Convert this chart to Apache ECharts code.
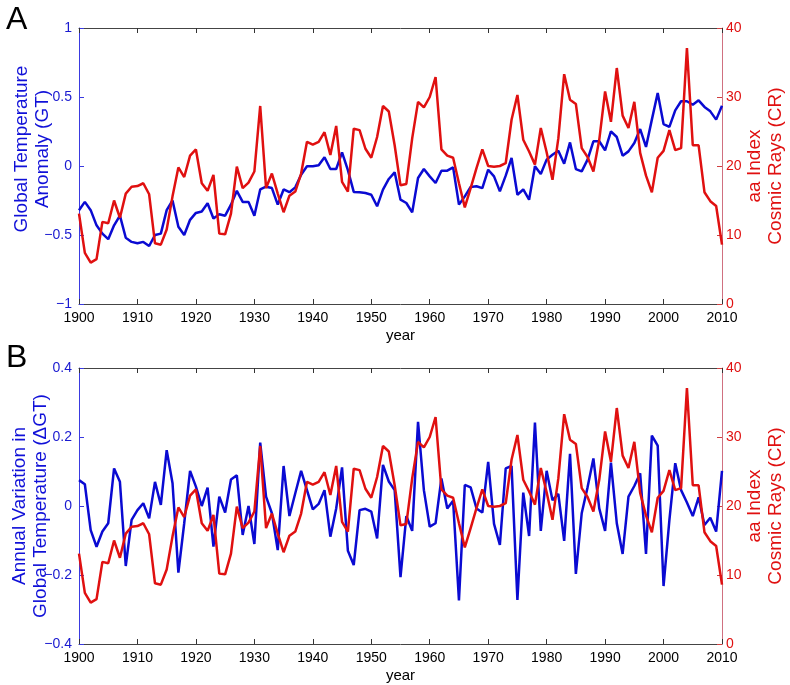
<!DOCTYPE html>
<html><head><meta charset="utf-8">
<script src="https://cdn.jsdelivr.net/npm/echarts@6/dist/echarts.min.js"></script>
<style>html,body{margin:0;padding:0;background:#fff}#c{width:790px;height:685px}</style>
</head><body><div id="c"></div>
<script>
const years = [];
for (let y = 1900; y <= 2010; y++) years.push(y);

// Global temperature anomaly (panel A, left axis)
const gt = [
-0.32,-0.26,-0.32,-0.43,-0.49,-0.53,-0.43,-0.36,-0.52,-0.55,
-0.56,-0.55,-0.58,-0.50,-0.49,-0.32,-0.25,-0.44,-0.50,-0.39,
-0.34,-0.33,-0.27,-0.38,-0.35,-0.36,-0.28,-0.18,-0.26,-0.26,
-0.36,-0.17,-0.15,-0.16,-0.28,-0.17,-0.19,-0.155,-0.063,-0.002,
-0.002,0.005,0.063,-0.022,-0.022,0.099,-0.03,-0.188,-0.19,-0.196,
-0.208,-0.292,-0.171,-0.094,-0.046,-0.244,-0.268,-0.336,-0.087,-0.022,
-0.075,-0.123,-0.034,-0.034,-0.01,-0.28,-0.22,-0.152,-0.147,-0.16,
-0.027,-0.075,-0.184,-0.07,0.058,-0.208,-0.17,-0.244,-0.002,-0.058,
0.046,0.082,0.111,0.017,0.171,-0.022,-0.039,0.046,0.179,0.179,
0.114,0.251,0.21,0.075,0.106,0.167,0.268,0.138,0.336,0.529,
0.304,0.283,0.403,0.469,0.469,0.444,0.476,0.428,0.396,0.336,0.437
];

// Annual variation in global temperature (panel B, left axis)
const dgt = [
0.075,0.063,-0.07,-0.118,-0.074,-0.05,0.109,0.07,-0.174,-0.04,
-0.012,0.008,-0.036,0.07,0.003,0.162,0.066,-0.193,-0.05,0.102,
0.056,0.0,0.053,-0.118,0.027,-0.019,0.077,0.089,-0.084,0.0,
-0.11,0.184,0.027,-0.021,-0.128,0.116,-0.029,0.037,0.102,0.046,
-0.01,0.006,0.046,-0.089,-0.007,0.112,-0.13,-0.171,-0.012,-0.008,
-0.016,-0.094,0.119,0.071,0.046,-0.206,-0.029,-0.072,0.244,0.046,
-0.06,-0.05,0.08,-0.007,0.015,-0.274,0.061,0.054,-0.007,-0.019,
0.128,-0.052,-0.113,0.109,0.116,-0.272,0.039,-0.087,0.242,-0.072,
0.102,0.017,0.035,-0.101,0.151,-0.197,-0.021,0.054,0.138,-0.007,
-0.072,0.126,-0.05,-0.139,0.027,0.058,0.095,-0.139,0.204,0.175,
-0.232,-0.041,0.124,0.046,0.01,-0.029,0.025,-0.055,-0.034,-0.074,0.102
];

// aa index / cosmic rays (right axis, both panels)
const cr = [
13.1,7.4,6.0,6.5,11.9,11.7,15.0,12.5,16.0,17.0,
17.1,17.5,15.9,8.8,8.6,10.8,15.6,19.8,18.4,21.5,
22.4,17.5,16.4,18.7,10.2,10.1,13.1,19.9,16.8,17.6,
19.2,28.7,16.8,18.9,16.0,13.3,15.7,16.3,18.9,23.5,
23.1,23.5,24.9,21.6,25.8,17.7,16.3,25.4,25.2,22.5,
21.2,24.2,28.7,27.9,23.0,17.2,17.4,24.0,29.3,28.5,
30.0,32.9,22.4,21.5,21.2,17.5,14.0,16.8,19.7,22.4,
20.0,19.9,20.0,20.4,26.7,30.3,23.8,22.1,20.2,25.5,
22.0,18.0,24.0,33.3,29.6,29.0,22.6,21.3,19.2,23.8,
30.8,26.4,34.2,27.3,25.5,29.3,21.9,18.6,16.2,21.2,
22.2,25.2,22.3,22.6,37.1,23.0,23.0,16.2,14.9,14.2,8.6
];

const xTicks = [1900,1910,1920,1930,1940,1950,1960,1970,1980,1990,2000,2010];
const leftNameA = 'Global Temperature\nAnomaly (GT)';
const leftNameB = 'Annual Variation in\nGlobal Temperature (\u0394GT)';
const rightName = 'aa Index\nCosmic Rays (CR)';

const BLUE = '#0a0ad2', RED = '#e01010';
const FONT = 'Liberation Sans, Arial, Helvetica, sans-serif';
const pairs = (arr) => years.map((y, i) => [y, arr[i]]);
const minus = v => String(v).replace('-', '\u2212');

function xAxes(gi) {
  return [{
    type: 'value', gridIndex: gi, min: xTicks[0], max: xTicks[xTicks.length - 1], interval: 10, position: 'bottom',
    axisLine: {onZero: false, lineStyle: {color: '#444', width: 1}},
    axisTick: {inside: true, length: 5, lineStyle: {color: '#333'}},
    axisLabel: {color: '#000', fontSize: 14, fontFamily: FONT, margin: 7, formatter: v => String(v)},
    splitLine: {show: false},
    name: 'year', nameLocation: 'middle', nameGap: 24, nameMoveOverlap: false,
    nameTextStyle: {color: '#000', fontSize: 15, fontFamily: FONT}
  }, {
    type: 'value', gridIndex: gi, min: xTicks[0], max: xTicks[xTicks.length - 1], interval: 10, position: 'top',
    axisLine: {onZero: false, lineStyle: {color: '#444', width: 1}},
    axisTick: {inside: true, length: 5, lineStyle: {color: '#333'}},
    axisLabel: {show: false}, splitLine: {show: false}
  }];
}

function leftY(gi, min, max, interval, fmt) {
  return {type: 'value', gridIndex: gi, min, max, interval, position: 'left',
    axisLine: {show: true, onZero: false, lineStyle: {color: '#3a3ae0', width: 1}},
    axisTick: {show: true, inside: true, length: 5, lineStyle: {color: '#3a3ae0'}},
    axisLabel: {color: '#1a1ad0', fontSize: 14, fontFamily: FONT, margin: 7, formatter: fmt},
    splitLine: {show: false}};
}
function rightY(gi) {
  return {type: 'value', gridIndex: gi, min: 0, max: 40, interval: 10, position: 'right',
    axisLine: {show: true, onZero: false, lineStyle: {color: '#d07080', width: 1}},
    axisTick: {show: true, inside: true, length: 5, lineStyle: {color: '#d04040'}},
    axisLabel: {color: '#e01010', fontSize: 14, fontFamily: FONT, margin: 4},
    splitLine: {show: false}};
}
function vText(text, x, y, color) {
  return {type: 'text', x, y, rotation: Math.PI / 2,
    style: {text, fill: color, fontSize: 19, fontFamily: FONT, lineHeight: 21,
            align: 'center', verticalAlign: 'middle'}};
}

const option = {
  animation: false,
  backgroundColor: '#fff',
  grid: [
    {left: 79, top: 28, right: 68, height: 276, containLabel: false, outerBoundsMode: 'none'},
    {left: 79, top: 368, right: 68, height: 276, containLabel: false, outerBoundsMode: 'none'}
  ],
  xAxis: [...xAxes(0), ...xAxes(1)],
  yAxis: [
    leftY(0, -1, 1, 0.5, minus),
    rightY(0),
    leftY(1, -0.4, 0.4, 0.2, v => { const s = Number(v).toFixed(1); return s === '0.0' || s === '-0.0' ? '0' : minus(s); }),
    rightY(1)
  ],
  series: [
    {type: 'line', xAxisIndex: 0, yAxisIndex: 0, data: pairs(gt), showSymbol: false,
     lineStyle: {color: BLUE, width: 2.5}, z: 2},
    {type: 'line', xAxisIndex: 0, yAxisIndex: 1, data: pairs(cr), showSymbol: false,
     lineStyle: {color: RED, width: 2.5}, z: 3},
    {type: 'line', xAxisIndex: 2, yAxisIndex: 2, data: pairs(dgt), showSymbol: false,
     lineStyle: {color: BLUE, width: 2.5}, z: 2},
    {type: 'line', xAxisIndex: 2, yAxisIndex: 3, data: pairs(cr), showSymbol: false,
     lineStyle: {color: RED, width: 2.5}, z: 3}
  ],
  graphic: [
    {type: 'text', left: 6, top: 4, style: {text: 'A', fontSize: 32, fontFamily: FONT, fill: '#000'}},
    {type: 'text', left: 6, top: 342, style: {text: 'B', fontSize: 32, fontFamily: FONT, fill: '#000'}},
    vText(leftNameA, 32, 149, '#1010d8'),
    vText(leftNameB, 30, 506, '#1010d8'),
    vText(rightName, 765, 166, '#e01010'),
    vText(rightName, 765, 506, '#e01010')
  ]
};
const chart = echarts.init(document.getElementById('c'), null, {renderer: 'canvas'});
chart.setOption(option);
</script>
</body></html>
